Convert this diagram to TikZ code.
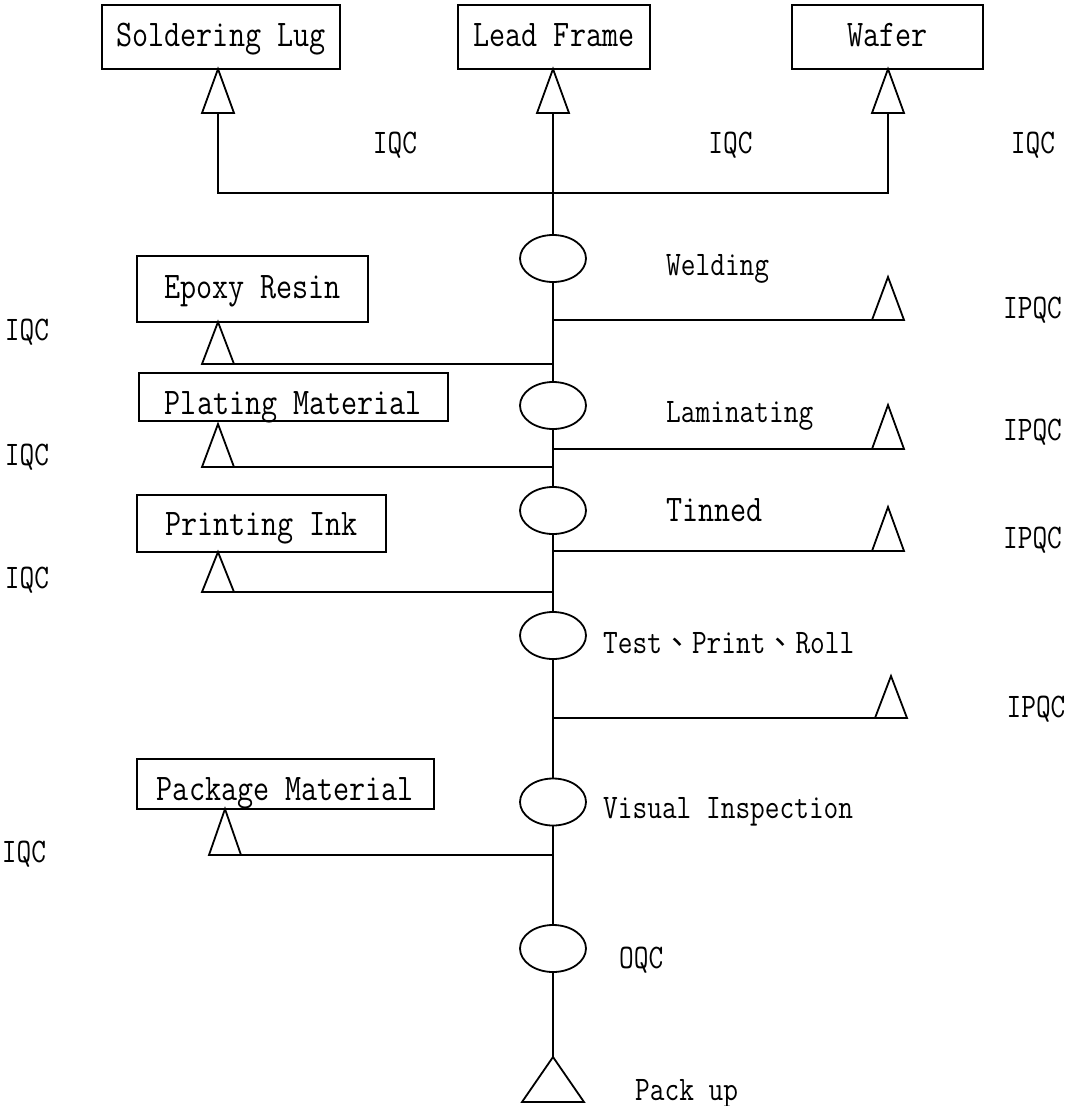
\documentclass[tikz,border=0pt]{standalone}
\usepackage{fontspec}
\usetikzlibrary{shapes.geometric}
\newfontfamily\qcmono[FakeStretch=0.83]{Latin Modern Mono}
\newfontfamily\qcpunct{Noto Sans CJK TC}
\newcommand\qcboxfont{\qcmono\fontsize{37.6}{38}\selectfont}
\newcommand\qclabfont{\qcmono\fontsize{34.4}{35}\selectfont}
\newcommand\qcsep{{\qcpunct\fontsize{30}{30}\selectfont 、}}

% inspection triangle: name, x of base centre, y of base, height (half width 16)
\newcommand\qctri[4]{%
  \draw[qcline] (#2-16,#3) -- (#2,#3-#4) -- (#2+16,#3) -- cycle;
  \coordinate (#1) at (#2,#3);
  \coordinate (#1-top) at (#2,#3-#4);
}

\tikzset{
  qcline/.style={line width=1.8pt, line join=miter},
  qcbox/.style={draw, line width=1.8pt, rectangle, inner sep=0pt,
    font=\qcboxfont, text height=23pt, text depth=0pt},
  qcstage/.style={draw, line width=1.8pt, ellipse, minimum width=66pt,
    minimum height=47pt, inner sep=0pt},
  qclab/.style={font=\qclabfont, inner sep=0pt, anchor=base west},
  qcmark/.style={font=\qclabfont, inner sep=0pt, anchor=base},
}

\begin{document}
\begin{tikzpicture}[x=1pt, y=-1pt]
\useasboundingbox (0,0) rectangle (1066,1106);

% incoming materials
\node[qcbox, minimum width=238pt, minimum height=64pt, text depth=4pt] (lug) at (221,37) {Soldering Lug};
\node[qcbox, minimum width=192pt, minimum height=64pt, text depth=4pt] (lead) at (554,37) {Lead Frame};
\node[qcbox, minimum width=191pt, minimum height=64pt, text depth=4pt] (wafer) at (887.5,37) {Wafer};
\node[qcbox, minimum width=231pt, minimum height=66pt, text depth=5pt] (epoxy) at (252.5,289) {Epoxy Resin};
\node[qcbox, minimum width=309pt, minimum height=48pt, text height=34pt] (plating) at (293.5,397) {Plating Material};
\node[qcbox, minimum width=249pt, minimum height=57pt] (ink) at (261.5,523.5) {Printing Ink};
\node[qcbox, minimum width=297pt, minimum height=50pt, text height=32pt] (pack) at (285.5,784) {Package Material};

% process stages
\node[qcstage] (e1) at (553,258.5) {};
\node[qcstage] (e2) at (553,405.5) {};
\node[qcstage] (e3) at (553,510.5) {};
\node[qcstage] (e4) at (553,635.5) {};
\node[qcstage] (e5) at (553,802) {};
\node[qcstage] (e6) at (553,948.5) {};

% inspection points
\qctri{t-lug}{218}{113}{44}
\qctri{t-lead}{553}{113}{44}
\qctri{t-wafer}{888}{113}{44}
\qctri{t-epoxy}{218}{364}{42}
\qctri{t-plating}{218}{467}{43}
\qctri{t-ink}{218}{592}{40}
\qctri{t-pack}{225}{855}{46}
\qctri{t-w1}{888}{320}{43}
\qctri{t-w2}{888}{449}{44}
\qctri{t-w3}{888}{551}{44}
\qctri{t-w4}{891}{718}{42}
\draw[qcline] (522,1102) -- (553,1057) -- (584,1102) -- cycle;
\coordinate (t-end) at (553,1057);

% main flow
\coordinate (bus) at (553,193);
\draw[qcline] (t-lug) -- (t-lug |- bus) -- (t-wafer |- bus) -- (t-wafer);
\draw[qcline] (t-lead) -- (e1.north);
\draw[qcline] (e1.south) -- (e2.north);
\draw[qcline] (e2.south) -- (e3.north);
\draw[qcline] (e3.south) -- (e4.north);
\draw[qcline] (e4.south) -- (e5.north);
\draw[qcline] (e5.south) -- (e6.north);
\draw[qcline] (e6.south) -- (t-end);

% branches
\coordinate (r1) at (553,320);
\coordinate (r2) at (553,449);
\coordinate (r3) at (553,551);
\coordinate (r4) at (553,718);
\coordinate (l1) at (553,364);
\coordinate (l2) at (553,467);
\coordinate (l3) at (553,592);
\coordinate (l4) at (553,855);
\draw[qcline] (r1) -- (t-w1);
\draw[qcline] (r2) -- (t-w2);
\draw[qcline] (r3) -- (t-w3);
\draw[qcline] (r4) -- (t-w4);
\draw[qcline] (l1) -- (t-epoxy);
\draw[qcline] (l2) -- (t-plating);
\draw[qcline] (l3) -- (t-ink);
\draw[qcline] (l4) -- (t-pack);

% stage names
\node[qclab] (n1) at (666,275) {Welding};
\node[qclab] (n2) at (666,422) {Laminating};
\node[qclab, font=\qcboxfont] (n3) at (666,521) {Tinned};
\node[qclab] (n4) at (603,653) {Test\qcsep Print\qcsep Roll};
\node[qclab] (n5) at (603,818) {Visual Inspection};
\node[qclab] (n6) at (619,968) {OQC};
\node[qclab] (n7) at (635,1100) {Pack up};

% inspection types
\node[qcmark] (q1) at (395,153) {IQC};
\node[qcmark] (q2) at (730.5,153) {IQC};
\node[qcmark] (q3) at (1033,153) {IQC};
\node[qcmark] (q4) at (27,340) {IQC};
\node[qcmark] (q5) at (27,465) {IQC};
\node[qcmark] (q6) at (27,588) {IQC};
\node[qcmark] (q7) at (24,862) {IQC};
\node[qcmark] (p1) at (1032.5,318) {IPQC};
\node[qcmark] (p2) at (1032.5,440) {IPQC};
\node[qcmark] (p3) at (1032.5,548) {IPQC};
\node[qcmark] (p4) at (1036,717) {IPQC};
\end{tikzpicture}
\end{document}
